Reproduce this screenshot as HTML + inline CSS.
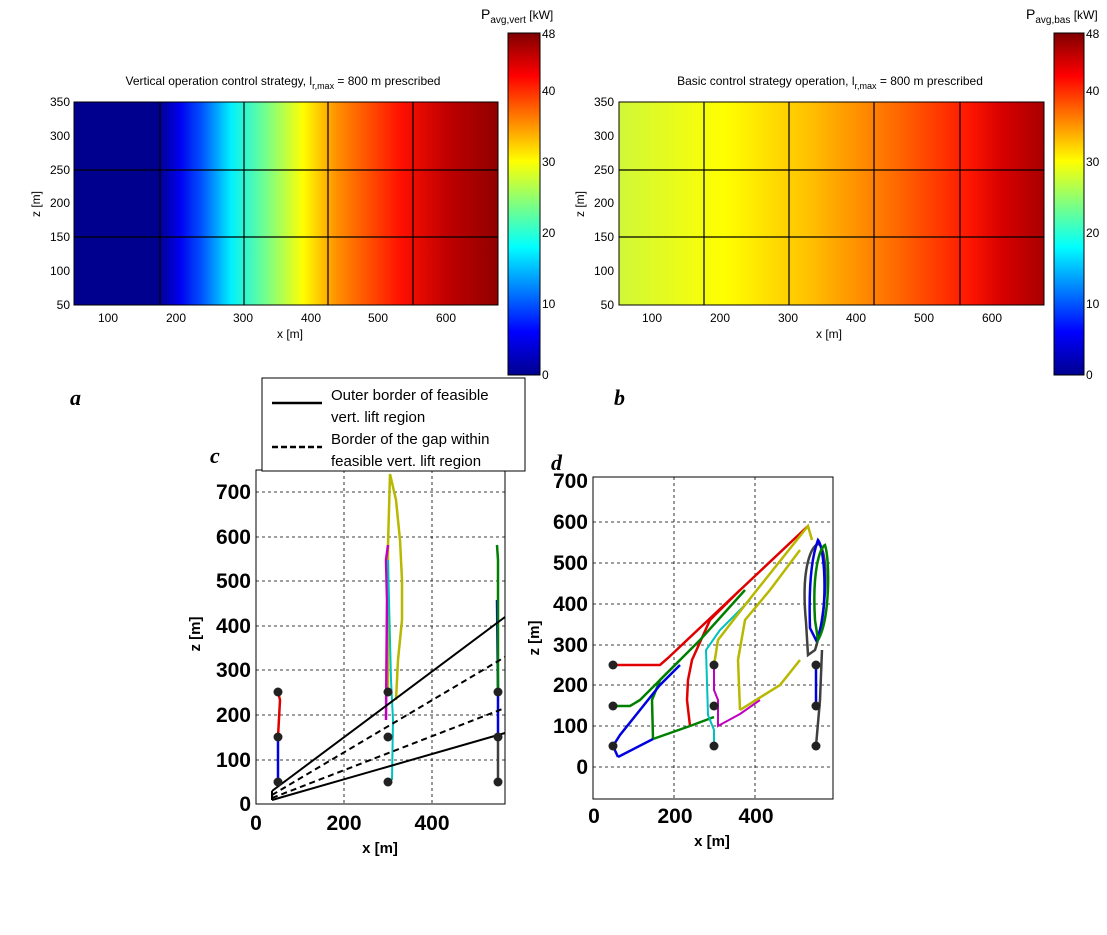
<!DOCTYPE html>
<html><head><meta charset="utf-8"><style>
body{margin:0;background:#fff;width:1107px;height:930px;overflow:hidden}
svg text{font-family:"Liberation Sans",sans-serif}
svg text.ser{font-family:"Liberation Serif",serif}
</style></head><body>
<svg width="1107" height="930" xmlns="http://www.w3.org/2000/svg">
<defs>
<linearGradient id="ga" x1="0" x2="1" y1="0" y2="0">
<stop offset="0" stop-color="#00008f"/><stop offset="0.2" stop-color="#00008f"/>
<stop offset="0.25" stop-color="#0000f0"/><stop offset="0.3" stop-color="#0050ff"/>
<stop offset="0.37" stop-color="#00f0ff"/><stop offset="0.45" stop-color="#70ff90"/>
<stop offset="0.54" stop-color="#ffff00"/><stop offset="0.62" stop-color="#ff9000"/>
<stop offset="0.77" stop-color="#ff1000"/><stop offset="0.88" stop-color="#c00000"/>
<stop offset="1" stop-color="#900000"/></linearGradient>
<linearGradient id="gb" x1="0" x2="1" y1="0" y2="0">
<stop offset="0" stop-color="#d0f838"/><stop offset="0.25" stop-color="#ffff00"/>
<stop offset="0.45" stop-color="#ffc000"/><stop offset="0.65" stop-color="#ff6a00"/>
<stop offset="0.82" stop-color="#ff1800"/><stop offset="0.9" stop-color="#d80000"/>
<stop offset="1" stop-color="#a80000"/></linearGradient>
<linearGradient id="jet" x1="0" x2="0" y1="1" y2="0">
<stop offset="0" stop-color="#00008f"/><stop offset="0.125" stop-color="#0000ff"/>
<stop offset="0.375" stop-color="#00ffff"/><stop offset="0.625" stop-color="#ffff00"/>
<stop offset="0.875" stop-color="#ff0000"/><stop offset="1" stop-color="#800000"/></linearGradient>
</defs>

<!-- Panel a -->
<text x="283" y="85" font-size="12" text-anchor="middle">Vertical operation control strategy, l<tspan font-size="9" dy="4">r,max</tspan><tspan dy="-4"> = 800 m prescribed</tspan></text>
<rect x="74" y="102" width="424" height="203" fill="url(#ga)" stroke="#000"/>
<g stroke="#000" stroke-width="1.2"><line x1="160" y1="102" x2="160" y2="305"/><line x1="244" y1="102" x2="244" y2="305"/><line x1="328" y1="102" x2="328" y2="305"/><line x1="413" y1="102" x2="413" y2="305"/><line x1="74" y1="170" x2="498" y2="170"/><line x1="74" y1="237" x2="498" y2="237"/></g>
<g font-size="12" text-anchor="end"><text x="70" y="106">350</text><text x="70" y="140">300</text><text x="70" y="174">250</text><text x="70" y="207">200</text><text x="70" y="241">150</text><text x="70" y="275">100</text><text x="70" y="309">50</text></g>
<g font-size="12" text-anchor="middle"><text x="108" y="322">100</text><text x="176" y="322">200</text><text x="243" y="322">300</text><text x="311" y="322">400</text><text x="378" y="322">500</text><text x="446" y="322">600</text><text x="290" y="338">x [m]</text></g>
<text x="40" y="204" font-size="12" transform="rotate(-90 40 204)" text-anchor="middle">z [m]</text>
<text class="ser" x="70" y="405" font-size="22" font-weight="bold" font-style="italic">a</text>
<rect x="508" y="33" width="32" height="342" fill="url(#jet)" stroke="#000"/>
<g font-size="12"><text x="542" y="38">48</text><text x="542" y="95">40</text><text x="542" y="166">30</text><text x="542" y="237">20</text><text x="542" y="308">10</text><text x="542" y="379">0</text></g>
<text x="481" y="19" font-size="14">P<tspan font-size="10" dy="4">avg,vert</tspan><tspan dy="-4" font-size="12"> [kW]</tspan></text>

<!-- Panel b -->
<text x="830" y="85" font-size="12" text-anchor="middle">Basic control strategy operation, l<tspan font-size="9" dy="4">r,max</tspan><tspan dy="-4"> = 800 m prescribed</tspan></text>
<rect x="619" y="102" width="425" height="203" fill="url(#gb)" stroke="#000"/>
<g stroke="#000" stroke-width="1.2"><line x1="704" y1="102" x2="704" y2="305"/><line x1="789" y1="102" x2="789" y2="305"/><line x1="874" y1="102" x2="874" y2="305"/><line x1="960" y1="102" x2="960" y2="305"/><line x1="619" y1="170" x2="1044" y2="170"/><line x1="619" y1="237" x2="1044" y2="237"/></g>
<g font-size="12" text-anchor="end"><text x="614" y="106">350</text><text x="614" y="140">300</text><text x="614" y="174">250</text><text x="614" y="207">200</text><text x="614" y="241">150</text><text x="614" y="275">100</text><text x="614" y="309">50</text></g>
<g font-size="12" text-anchor="middle"><text x="652" y="322">100</text><text x="720" y="322">200</text><text x="788" y="322">300</text><text x="856" y="322">400</text><text x="924" y="322">500</text><text x="992" y="322">600</text><text x="829" y="338">x [m]</text></g>
<text x="584" y="204" font-size="12" transform="rotate(-90 584 204)" text-anchor="middle">z [m]</text>
<text class="ser" x="614" y="405" font-size="22" font-weight="bold" font-style="italic">b</text>
<rect x="1054" y="33" width="30" height="342" fill="url(#jet)" stroke="#000"/>
<g font-size="12"><text x="1086" y="38">48</text><text x="1086" y="95">40</text><text x="1086" y="166">30</text><text x="1086" y="237">20</text><text x="1086" y="308">10</text><text x="1086" y="379">0</text></g>
<text x="1026" y="19" font-size="14">P<tspan font-size="10" dy="4">avg,bas</tspan><tspan dy="-4" font-size="12"> [kW]</tspan></text>

<!-- Panel c -->
<rect x="256" y="470" width="249" height="334" fill="#fff" stroke="#000"/>
<g stroke="#000" stroke-dasharray="3,3" stroke-width="0.8">
<line x1="344" y1="470" x2="344" y2="804"/><line x1="432" y1="470" x2="432" y2="804"/>
<line x1="256" y1="492" x2="505" y2="492"/><line x1="256" y1="537" x2="505" y2="537"/><line x1="256" y1="581" x2="505" y2="581"/><line x1="256" y1="626" x2="505" y2="626"/><line x1="256" y1="670" x2="505" y2="670"/><line x1="256" y1="715" x2="505" y2="715"/><line x1="256" y1="760" x2="505" y2="760"/></g>
<g font-size="21" font-weight="bold" text-anchor="end"><text x="251" y="499">700</text><text x="251" y="544">600</text><text x="251" y="588">500</text><text x="251" y="633">400</text><text x="251" y="677">300</text><text x="251" y="722">200</text><text x="251" y="767">100</text><text x="251" y="811">0</text></g>
<g font-size="21" font-weight="bold" text-anchor="middle"><text x="256" y="830">0</text><text x="344" y="830">200</text><text x="432" y="830">400</text></g>
<text x="380" y="853" font-size="15" font-weight="bold" text-anchor="middle">x [m]</text>
<text x="200" y="634" font-size="15" font-weight="bold" transform="rotate(-90 200 634)" text-anchor="middle">z [m]</text>
<text class="ser" x="210" y="463" font-size="22" font-weight="bold" font-style="italic">c</text>
<g fill="none" stroke-width="2.5">
<path d="M388,692 L388,545 L390,474 L396,500 L400,540 L402,580 L402,620 L398,660 L396,700" stroke="#b8b800"/>
<path d="M386,720 L387,600 L386,560 L388,545" stroke="#c000c0"/>
<path d="M392,780 L393,720 L391,680 L390,640 L389,600 L388,560" stroke="#00c0c0" stroke-width="2"/>
<path d="M278,692 L280,700 L278,737" stroke="#e00000"/>
<path d="M278,737 L278,782" stroke="#0000e0"/>
<path d="M498,782 L498,737" stroke="#404040"/>
<path d="M498,737 L498,692 L497,600" stroke="#0000e0"/>
<path d="M498,692 L498,560 L497,545" stroke="#008000"/>
</g>
<g stroke="#000" stroke-width="2" fill="none">
<line x1="272" y1="791" x2="505" y2="617"/><line x1="272" y1="800" x2="505" y2="733"/>
<line x1="272" y1="791" x2="272" y2="800"/>
<line x1="272" y1="795" x2="505" y2="657" stroke-dasharray="6,4"/><line x1="272" y1="798" x2="505" y2="708" stroke-dasharray="6,4"/>
</g>
<g fill="#222"><circle cx="278" cy="692" r="4.5"/><circle cx="278" cy="737" r="4.5"/><circle cx="278" cy="782" r="4.5"/><circle cx="388" cy="692" r="4.5"/><circle cx="388" cy="737" r="4.5"/><circle cx="388" cy="782" r="4.5"/><circle cx="498" cy="692" r="4.5"/><circle cx="498" cy="737" r="4.5"/><circle cx="498" cy="782" r="4.5"/></g>
<rect x="262" y="378" width="263" height="93" fill="#fff" stroke="#000"/>
<line x1="272" y1="403" x2="322" y2="403" stroke="#000" stroke-width="2.5"/>
<line x1="272" y1="447" x2="322" y2="447" stroke="#000" stroke-width="2.5" stroke-dasharray="6,3"/>
<g font-size="15"><text x="331" y="400">Outer border of feasible</text><text x="331" y="422">vert. lift region</text><text x="331" y="444">Border of the gap within</text><text x="331" y="466">feasible vert. lift region</text></g>

<!-- Panel d -->
<rect x="593" y="477" width="240" height="322" fill="#fff" stroke="#000"/>
<g stroke="#000" stroke-dasharray="3,3" stroke-width="0.8">
<line x1="674" y1="477" x2="674" y2="799"/><line x1="755" y1="477" x2="755" y2="799"/>
<line x1="593" y1="522" x2="833" y2="522"/><line x1="593" y1="563" x2="833" y2="563"/><line x1="593" y1="604" x2="833" y2="604"/><line x1="593" y1="645" x2="833" y2="645"/><line x1="593" y1="685" x2="833" y2="685"/><line x1="593" y1="726" x2="833" y2="726"/><line x1="593" y1="767" x2="833" y2="767"/></g>
<g font-size="21" font-weight="bold" text-anchor="end"><text x="588" y="488">700</text><text x="588" y="529">600</text><text x="588" y="570">500</text><text x="588" y="611">400</text><text x="588" y="652">300</text><text x="588" y="692">200</text><text x="588" y="733">100</text><text x="588" y="774">0</text></g>
<g font-size="21" font-weight="bold" text-anchor="middle"><text x="594" y="823">0</text><text x="675" y="823">200</text><text x="756" y="823">400</text></g>
<text x="712" y="846" font-size="15" font-weight="bold" text-anchor="middle">x [m]</text>
<text x="539" y="638" font-size="15" font-weight="bold" transform="rotate(-90 539 638)" text-anchor="middle">z [m]</text>
<text class="ser" x="551" y="470" font-size="22" font-weight="bold" font-style="italic">d</text>
<g fill="none" stroke-width="2.5">
<path d="M806,622 C800,560 815,540 820,545 C830,560 825,620 815,650 L808,655 Z" stroke="#404040"/>
<path d="M816,746 L820,700 L822,650" stroke="#404040"/>
<path d="M810,628 C808,570 815,548 818,540 C826,550 828,620 816,640 Z" stroke="#0000e0"/>
<path d="M816,665 L816,706" stroke="#0000e0"/>
<path d="M815,620 C812,570 820,548 825,545 C830,560 830,620 818,640 Z" stroke="#008000"/>
<path d="M613,665 L660,665 L668,658 L808,526" stroke="#e00000"/>
<path d="M690,726 L687,700 L688,680 L692,660 L710,620 L740,590" stroke="#e00000"/>
<path d="M613,706 L630,706 L640,700 L700,640 L745,590" stroke="#008000"/>
<path d="M653,739 L652,700 L660,680 L680,660" stroke="#008000"/>
<path d="M653,739 L690,726 L714,717" stroke="#008000"/>
<path d="M613,746 L620,735 L640,710 L660,685 L680,665" stroke="#0000e0"/>
<path d="M618,757 L653,739" stroke="#0000e0"/>
<path d="M613,746 L618,757" stroke="#0000e0"/>
<path d="M714,746 L714,730 L708,715 L706,650 L720,630 L750,600" stroke="#00c0c0" stroke-width="2"/>
<path d="M714,665 L714,690 L718,700 L718,726 L740,714 L760,700" stroke="#c000c0" stroke-width="2"/>
<path d="M714,665 L718,640 L745,605 L808,526 L812,540" stroke="#b8b800"/>
<path d="M740,710 L738,660 L745,620 L770,590 L800,550" stroke="#b8b800"/>
<path d="M740,710 L780,685 L800,660" stroke="#b8b800"/>
</g>
<g fill="#222"><circle cx="613" cy="665" r="4.5"/><circle cx="613" cy="706" r="4.5"/><circle cx="613" cy="746" r="4.5"/><circle cx="714" cy="665" r="4.5"/><circle cx="714" cy="706" r="4.5"/><circle cx="714" cy="746" r="4.5"/><circle cx="816" cy="665" r="4.5"/><circle cx="816" cy="706" r="4.5"/><circle cx="816" cy="746" r="4.5"/></g>
</svg>
</body></html>
